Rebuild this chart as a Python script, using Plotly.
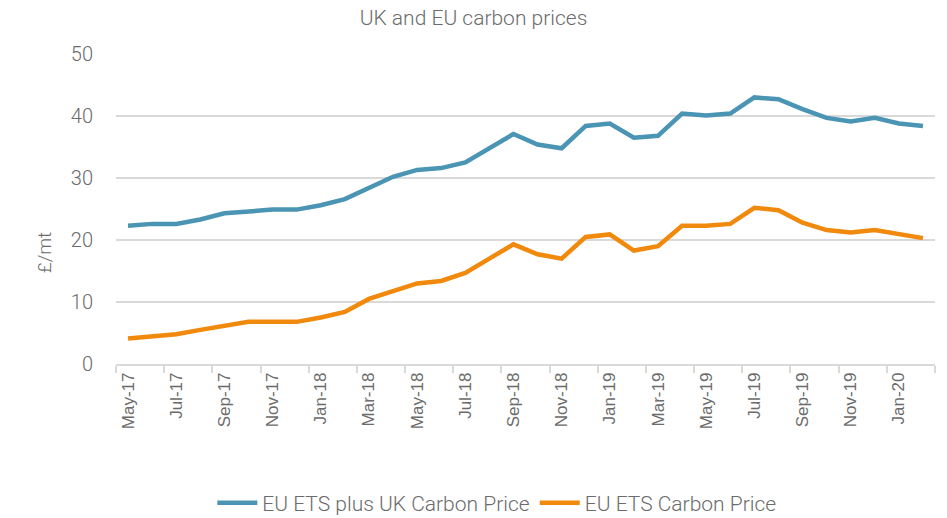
import plotly.graph_objects as go

# ── data ─────────────────────────────────────────────────────────────────────

MONTHS = [
    "May-17", "Jun-17", "Jul-17", "Aug-17", "Sep-17", "Oct-17", "Nov-17", "Dec-17",
    "Jan-18", "Feb-18", "Mar-18", "Apr-18", "May-18", "Jun-18", "Jul-18", "Aug-18",
    "Sep-18", "Oct-18", "Nov-18", "Dec-18", "Jan-19", "Feb-19", "Mar-19", "Apr-19",
    "May-19", "Jun-19", "Jul-19", "Aug-19", "Sep-19", "Oct-19", "Nov-19", "Dec-19",
    "Jan-20", "Feb-20",
]

EU_PLUS_UK = [
    22.3, 22.6, 22.6, 23.3, 24.3, 24.6, 24.9, 24.9,
    25.6, 26.6, 28.5, 30.2, 31.3, 31.6, 32.5, 34.8,
    37.1, 35.4, 34.8, 38.4, 38.8, 36.5, 36.8, 40.4,
    40.1, 40.4, 43.0, 42.7, 41.1, 39.7, 39.1, 39.7,
    38.8, 38.4,
]

EU_ETS = [
    4.1, 4.5, 4.8, 5.5, 6.2, 6.8, 6.8, 6.8,
    7.5, 8.4, 10.5, 11.8, 13.0, 13.4, 14.7, 17.0,
    19.3, 17.7, 17.0, 20.5, 20.9, 18.3, 19.0, 22.3,
    22.3, 22.6, 25.2, 24.8, 22.8, 21.6, 21.2, 21.6,
    21.0, 20.3,
]

SERIES_NAMES = ["EU ETS plus UK Carbon Price", "EU ETS Carbon Price"]

# ── styling ──────────────────────────────────────────────────────────────────

BLUE = "#4A94B4"
ORANGE = "#F0890C"
GREY_TEXT = "#6B6B6B"
GRID = "#D9D9D9"
THIN = "Roboto, sans-serif"

fig = go.Figure()
for name, values, colour in [
    (SERIES_NAMES[0], EU_PLUS_UK, BLUE),
    (SERIES_NAMES[1], EU_ETS, ORANGE),
]:
    fig.add_trace(
        go.Scatter(
            x=MONTHS,
            y=values,
            mode="lines",
            name=name,
            line=dict(color=colour, width=4.5),
        )
    )

# y-axis title sits a little below the plot's middle in the original
fig.add_annotation(
    text="£/mt",
    textangle=-90,
    xref="paper", yref="paper",
    x=-0.087, y=0.36,
    xanchor="center", yanchor="middle",
    showarrow=False,
    font=dict(family=THIN, size=19, color=GREY_TEXT, weight=300),
)

fig.update_layout(
    width=947,
    height=518,
    margin=dict(l=116, r=12, t=54, b=154),
    paper_bgcolor="#FFFFFF",
    plot_bgcolor="#FFFFFF",
    font=dict(family=THIN, color=GREY_TEXT, size=16),
    title=dict(
        text="UK and EU carbon prices",
        x=0.5, xanchor="center", xref="container",
        y=0.965, yanchor="middle",
        font=dict(family=THIN, size=21, color=GREY_TEXT, weight=300),
    ),
    showlegend=True,
    legend=dict(
        orientation="h",
        x=0.465, xanchor="center",
        yref="container", y=0.029, yanchor="middle",
        font=dict(family=THIN, size=21, color=GREY_TEXT, weight=300),
        itemwidth=40,
    ),
    xaxis=dict(
        type="category",
        range=[-0.5, len(MONTHS) - 0.5],
        dtick=2,
        tickson="boundaries",
        ticks="outside",
        ticklen=7,
        tickcolor=GRID,
        tickwidth=1.5,
        tickangle=-90,
        tickfont=dict(family="Liberation Sans, Arial, sans-serif", size=17, color=GREY_TEXT),
        showgrid=False,
        showline=True,
        linecolor=GRID,
        linewidth=1.5,
    ),
    yaxis=dict(
        range=[0, 50],
        dtick=10,
        showgrid=True,
        gridcolor=GRID,
        gridwidth=1.5,
        zeroline=False,
        showline=False,
        ticks="",
        ticklabelstandoff=22,
        tickfont=dict(family=THIN, size=20, color=GREY_TEXT, weight=300),
    ),
)

# the page's default body margin would shift the fixed-size figure
fig.write_html(
    "out.html",
    config={"displayModeBar": False},
    post_script="document.body.style.margin='0';",
)
